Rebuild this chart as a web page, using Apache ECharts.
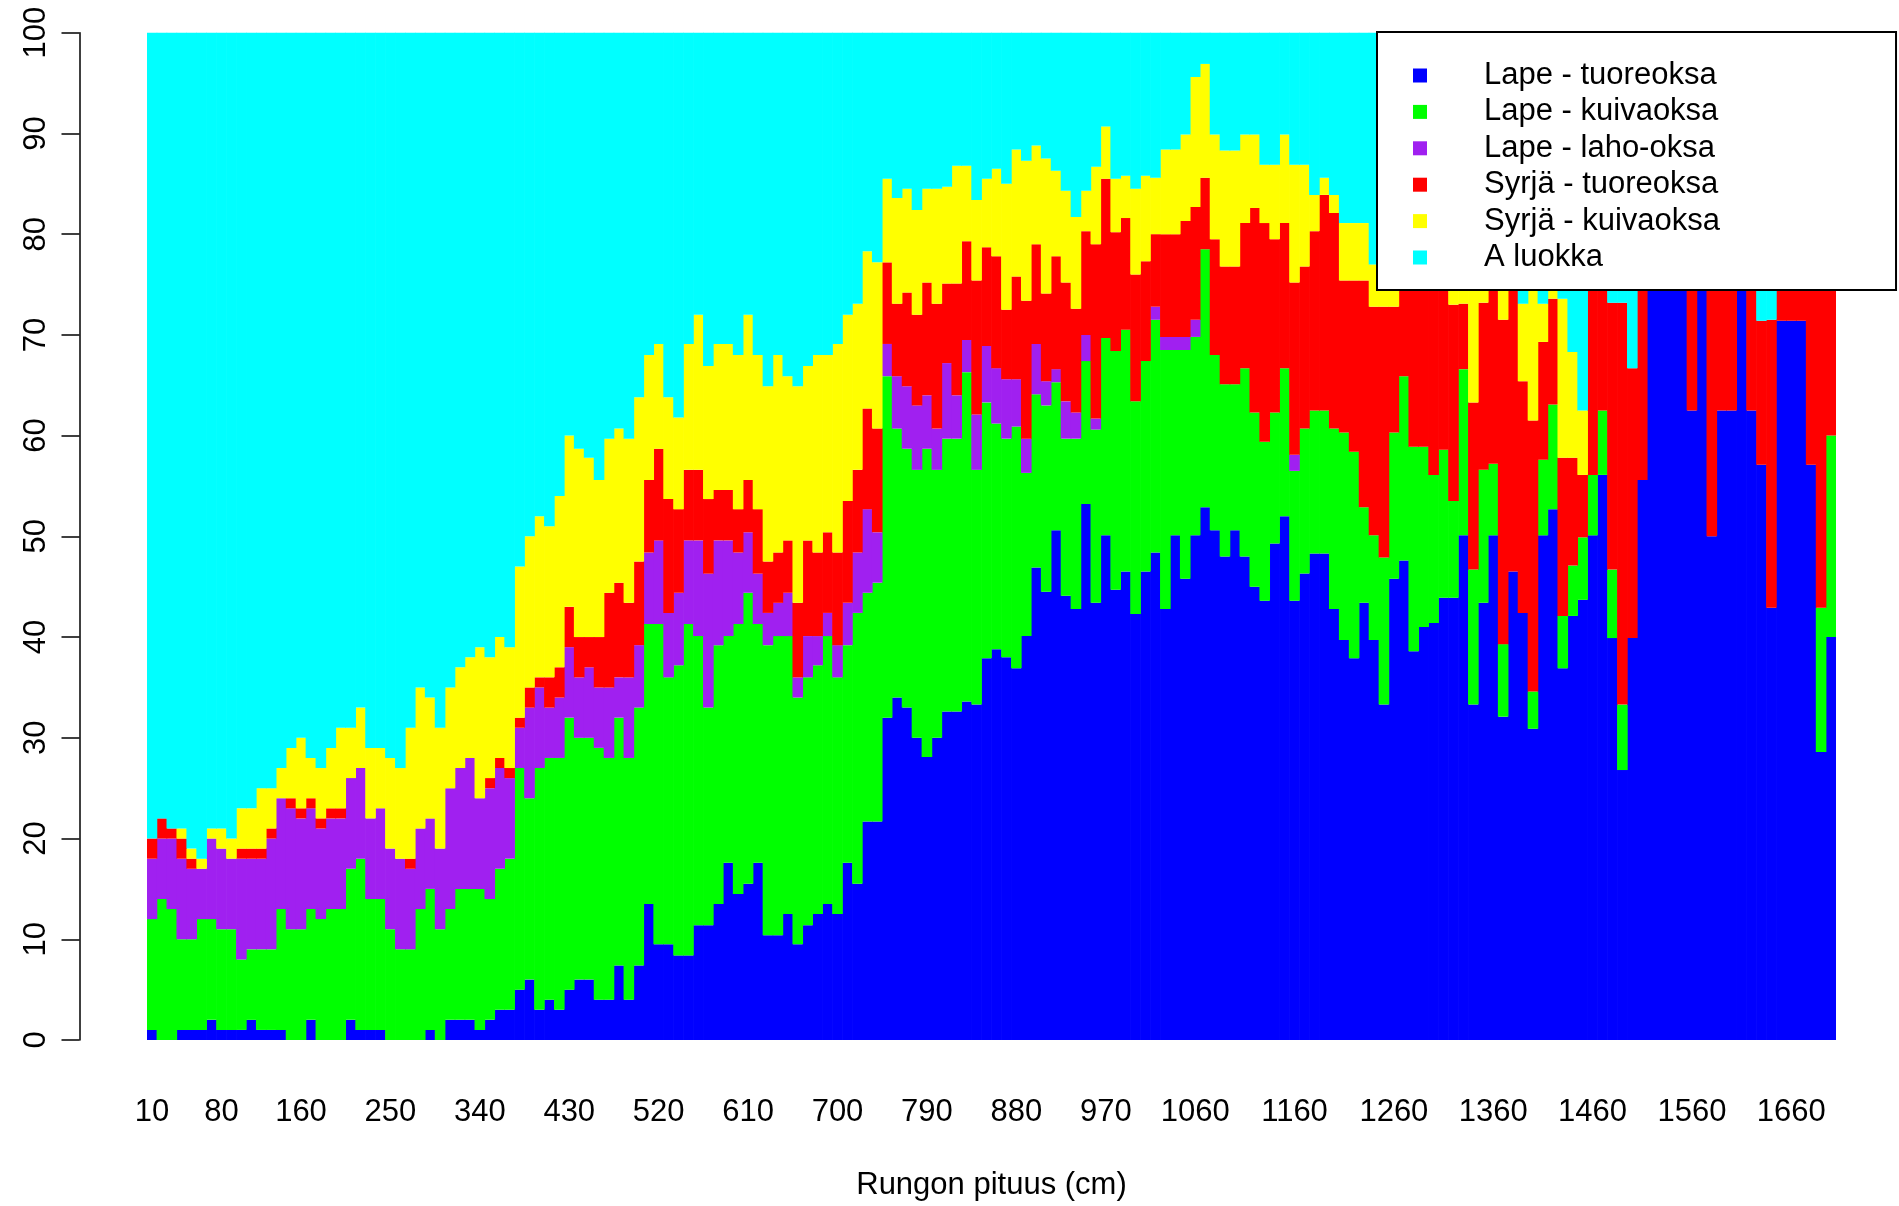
<!DOCTYPE html>
<html>
<head>
<meta charset="utf-8">
<script src="https://cdn.jsdelivr.net/npm/echarts@6/dist/echarts.min.js"></script>
<style>
html,body{margin:0;padding:0;background:#fff;}
#chart{width:1899px;height:1206px;}
</style>
</head>
<body>
<div id="chart"></div>
<script>
const categories = [
'10','20','30','40','50','60','70','80','90','100','110','120','130','140','150','160','170','180','190','200',
'210','220','230','240','250','260','270','280','290','300','310','320','330','340','350','360','370','380','390','400',
'410','420','430','440','450','460','470','480','490','500','510','520','530','540','550','560','570','580','590','600',
'610','620','630','640','650','660','670','680','690','700','710','720','730','740','750','760','770','780','790','800',
'810','820','830','840','850','860','870','880','890','900','910','920','930','940','950','960','970','980','990','1000',
'1010','1020','1030','1040','1050','1060','1070','1080','1090','1100','1110','1120','1130','1140','1150','1160','1170','1180','1190','1200',
'1210','1220','1230','1240','1250','1260','1270','1280','1290','1300','1310','1320','1330','1340','1350','1360','1370','1380','1390','1400',
'1410','1420','1430','1440','1450','1460','1470','1480','1490','1500','1510','1520','1530','1540','1550','1560','1570','1580','1590','1600',
'1610','1620','1630','1640','1650','1660','1670','1680','1690','1700'];

const shownLabels = ['10','80','160','250','340','430','520','610','700','790','880','970','1060','1160','1260','1360','1460','1560','1660'];

const seriesNames = ['Lape - tuoreoksa','Lape - kuivaoksa','Lape - laho-oksa','Syrjä - tuoreoksa','Syrjä - kuivaoksa','A luokka'];

const lapeTuore = [
1,0,0,1,1,1,2,1,1,1, 2,1,1,1,0,0,2,0,0,0, 2,1,1,1,0,0,0,0,1,0, 2,2,2,1,2,3,3,5,6,3,
4,3,5,6,6,4,4,7.4,4,7.4, 13.5,9.5,9.5,8.4,8.4,11.4,11.4,13.5,17.6,14.5, 15.5,17.6,10.4,10.4,12.5,9.5,11.4,12.5,13.5,12.5,
17.6,15.5,21.7,21.7,32,34,33,30,28.1,30, 32.6,32.6,33.6,33.3,37.9,38.8,38,36.9,40.1,46.9, 44.5,50.6,44.1,42.8,53.2,43.4,50.1,44.7,46.5,42.3,
46.5,48.4,42.8,50.1,45.8,50.1,52.9,50.6,48,50.6, 48,45,43.6,49.3,52,43.6,46.3,48.3,48.3,42.8, 39.7,37.9,43.4,39.7,33.3,45.8,47.6,38.6,41,41.4,
43.9,43.9,50.1,33.3,43.4,50.1,32.1,46.5,42.4,30.9, 50.1,52.7,36.9,42.1,43.7,50.1,56.1,39.9,26.8,39.9, 55.6,100,100,100,100,62.5,100,50,62.5,62.5,
100,62.5,57.1,42.9,71.4,71.4,71.4,57.1,28.6,40];

const lapeKuiva = [
11,14,13,9,9,11,10,10,10,7, 7,8,8,12,11,11,11,12,13,13, 15,17,13,13,11,9,9,13,14,11, 11,13,13,14,12,14,15,22,18,24,
24,25,27,24,24,25,24,24.6,24,25.6, 27.8,31.8,26.5,28.8,32.9,28.7,21.6,25.7,22.5,26.8, 28.9,23.7,28.8,29.7,27.6,24.5,24.6,24.7,26.6,23.5,
21.6,26.9,22.7,23.7,33.9,26.7,25.7,26.6,30.6,26.6, 27.1,27.1,32.7,23.3,25.4,22.4,21.7,24,16.2,17.2, 18.5,14.7,15.6,16.9,14.2,17.2,19.6,23.7,24,21.1,
20.9,23.1,25.7,18.4,22.7,19.7,25.6,17.4,17.1,14.5, 18.7,17.3,15.8,13,14.7,12.9,14.4,14.2,14.2,17.9, 20.6,20.5,9.5,10.4,14.6,14.5,18.3,20.3,17.9,14.7,
14.7,9.6,16.5,13.4,13.2,7.1,7.2,0,0,3.7, 7.5,10.4,5.2,5,6.2,6,6.4,6.8,6.5,0, 0,0,0,0,0,0,0,0,0,0,
0,0,0,0,0,0,0,0,14.3,20];

const lapeLaho = [
6,6,7,8,7,5,8,8,7,10, 9,9,11,11,12,11,10,9,9,9, 9,9,8,9,8,9,8,8,7,8, 12,12,13,9,11,10,8,4,9,8,
5,6,7,6,7,6,7,4,8,6.2, 7.1,8.3,6.4,7.2,8.3,9.5,13.3,10.4,9.5,7.1, 6,5,3.2,3.3,4.3,2,4.1,2.9,2.3,3.2,
4.2,6,8.3,5,3.2,5.2,6.2,6.4,5.3,4.1, 7.5,4.3,3.2,5.5,5.6,5.5,5.9,4.7,3.4,5, 2.4,1.3,3.7,2.6,2.6,1.1,0,0,0,0,
0,1.3,1.3,1.3,1.3,1.7,0,0,0,0, 0,0,0,0,0,1.6,0,0,0,0, 0,0,0,0,0,0,0,0,0,0,
0,0,0,0,0,0,0,0,0,0, 0,0,0,0,0,0,0,0,0,0, 0,0,0,0,0,0,0,0,0,0,
0,0,0,0,0,0,0,0,0,0];

const syrjaTuore = [
2,2,1,2,1,0,0,0,0,1, 1,1,1,0,1,1,1,1,1,1, 0,0,0,0,0,0,1,0,0,0, 0,0,0,0,1,1,1,1,2,1,
3,3,4,4,3,5,9.4,9.4,7.4,8.3, 7.2,9.1,11.3,8.3,7,7,7.4,5,5,4.3, 5.2,6.4,5.1,5,5.2,7.4,9.5,8.3,8,9.2,
10.1,8.2,10,10.3,8.1,7.2,9.3,9,11.2,12.4, 7.9,11.1,9.8,13.3,9.8,11.1,6.9,10.2,13.7,9.9, 8.7,11.2,11.8,10.3,10.3,17.3,15.8,11.8,11.1,12.6,
9.9,7.2,10.2,10.2,11.5,11.2,7.1,11.5,11.7,11.7, 14.4,20.3,21.7,17.2,14.4,17.1,16.1,17.8,21.4,21.4, 15.1,17,22.5,22.7,24.9,12.5,16.1,23.1,23.1,25.9,
23.4,19.5,6.5,16.6,16.6,24.8,32.2,38.5,23,26.9, 11.7,10.5,15.7,10.7,6.2,43.9,37.5,26.5,39.9,26.8, 44.4,0,0,0,0,37.5,0,50,37.5,37.5,
0,37.5,14.3,28.6,28.6,28.6,28.6,42.9,57.1,40];

const syrjaKuiva = [
0,0,0,1,1,1,1,2,2,4, 4,6,4,3,5,7,4,5,6,8, 5,6,7,6,9,9,13,14,12,12, 10,10,10,15,12,12,12,15,15,16,
15,17,17,18.7,17.8,15.6,15.3,15.3,16.3,16.3, 12.4,10.4,10.1,9.1,12.5,15.4,13.2,14.5,14.5,15.3, 16.4,15.3,17.4,19.6,16.3,21.5,17.3,19.6,17.6,20.7,
18.5,16.5,15.6,16.5,8.3,10.5,10.3,10.4,9.3,11.4, 9.6,11.7,7.5,8,6.8,8.7,12.5,12.6,13.9,9.8, 13.4,8.5,9.1,9.1,4,7.7,5.2,5.3,4.2,8.5,
8.5,5.6,8.4,8.4,8.6,12.9,11.3,10.4,11.5,11.5, 8.8,7.3,5.8,7.4,8.8,11.7,10.1,3.6,1.7,1.8, 5.7,5.7,5.7,4.2,7.2,7.2,0,0,0,0,
0,7,6.9,16.7,6.8,0,8.5,0,7.7,23.5, 3.8,11.4,15.8,10.5,6.4,0,0,0,0,0, 0,0,0,0,0,0,0,0,0,0,
0,0,0,0,0,0,0,0,0,0];

const aLuokka = [
80,78,79,79,81,82,79,79,80,77, 77,75,75,73,71,70,72,73,71,69, 69,67,71,71,72,73,69,65,66,69, 65,63,62,61,62,60,61,53,50,48,
49,46,40,41.3,42.2,44.4,40.3,39.3,40.3,36.2, 32,30.9,36.2,38.2,30.9,28,33.1,30.9,30.9,32, 28,32,35.1,32,34.1,35.1,33.1,32,32,30.9,
28,26.9,21.7,22.8,14.5,16.4,15.5,17.6,15.5,15.5, 15.3,13.2,13.2,16.6,14.5,13.5,15,11.6,12.7,11.2, 12.5,13.7,15.7,18.3,15.7,13.3,9.3,14.5,14.2,15.5,
14.2,14.4,11.6,11.6,10.1,4.4,3.1,10.1,11.7,11.7, 10.1,10.1,13.1,13.1,10.1,13.1,13.1,16.1,14.4,16.1, 18.9,18.9,18.9,23,20,20,18,18,18,18,
18,20,20,20,20,18,20,15,26.9,15, 26.9,15,26.4,31.7,37.5,0,0,26.8,26.8,33.3, 0,0,0,0,0,0,0,0,0,0,
0,0,28.6,28.6,0,0,0,0,0,0];

const colors = ['#0000FF','#00FF00','#A020F0','#FF0000','#FFFF00','#00FFFF'];
const allValues = [lapeTuore, lapeKuiva, lapeLaho, syrjaTuore, syrjaKuiva, aLuokka];

const FONT = "'Liberation Sans', Arial, sans-serif";
const chart = echarts.init(document.getElementById('chart'), null, {renderer: 'canvas'});

const series = seriesNames.map((name, i) => ({
  name: name,
  type: 'bar',
  stack: 'total',
  data: allValues[i],
  barWidth: 10.6,
  barGap: '0%',
  itemStyle: {color: colors[i]},
  emphasis: {disabled: true},
  silent: true
}));

chart.setOption({
  animation: false,
  backgroundColor: '#ffffff',
  textStyle: {fontFamily: FONT},
  grid: {left: 147, right: 63, top: 32.7, bottom: 164.4, containLabel: false},
  xAxis: {
    type: 'category',
    data: categories,
    boundaryGap: true,
    axisLine: {show: false},
    axisTick: {show: false},
    splitLine: {show: false},
    axisLabel: {
      interval: (idx, val) => shownLabels.indexOf(val) >= 0,
      color: '#000',
      fontFamily: FONT,
      fontSize: 31,
      margin: 57
    },
    name: 'Rungon pituus (cm)',
    nameLocation: 'middle',
    nameGap: 130,
    nameTextStyle: {color: '#000', fontFamily: FONT, fontSize: 31}
  },
  yAxis: {
    type: 'value',
    min: 0,
    max: 100,
    interval: 10,
    offset: 67.5,
    splitLine: {show: false},
    axisLine: {show: true, lineStyle: {color: '#000', width: 1.5}},
    axisTick: {show: true, length: 18, lineStyle: {color: '#000', width: 1.5}},
    axisLabel: {
      rotate: 90,
      color: '#000',
      fontFamily: FONT,
      fontSize: 31,
      margin: 28
    }
  },
  legend: {
    data: seriesNames,
    orient: 'vertical',
    left: 1377,
    top: 32,
    backgroundColor: '#ffffff',
    borderColor: '#000',
    borderWidth: 2,
    borderRadius: 0,
    padding: [28, 176, 17, 36],
    itemWidth: 14,
    itemHeight: 14,
    itemGap: 5.4,
    icon: 'rect',
    selectedMode: false,
    textStyle: {color: '#000', fontFamily: FONT, fontSize: 31, lineHeight: 31, padding: [0, 0, 0, 52]},
    z: 10
  },
  series: series
});
</script>
</body>
</html>
